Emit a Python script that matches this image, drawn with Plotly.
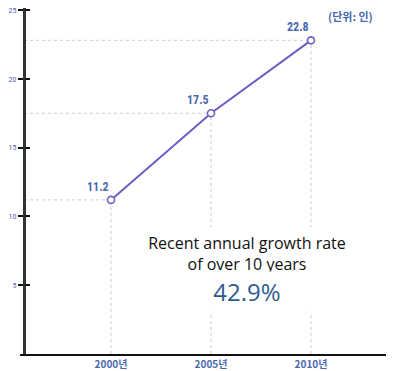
import plotly.graph_objects as go

years = [2000, 2005, 2010]
year_labels = ["2000년", "2005년", "2010년"]
values = [11.2, 17.5, 22.8]
value_labels = ["11.2", "17.5", "22.8"]
y_ticks = [5, 10, 15, 20, 25]
unit_label = "(단위: 인)"
note_lines = ["Recent annual growth rate", "of over 10 years", "42.9%"]

X0, X1 = 1995.45, 2014.15
Y0, Y1 = 0, 25.15
LINE_C = "#6a5fc4"
LABEL_C = "#4a68b0"
GUIDE_C = "#c9c9df"

fig = go.Figure()

# guide lines
for x, v in zip(years, values):
    fig.add_trace(go.Scatter(x=[X0 + 0.2, x], y=[v, v], mode="lines",
                             line=dict(color=GUIDE_C, width=1, dash="dot"),
                             hoverinfo="skip", showlegend=False))
    fig.add_trace(go.Scatter(x=[x, x], y=[Y0, v], mode="lines",
                             line=dict(color=GUIDE_C, width=1, dash="dot"),
                             hoverinfo="skip", showlegend=False))

fig.add_trace(go.Scatter(x=years, y=values, mode="lines+markers",
                         line=dict(color=LINE_C, width=2),
                         marker=dict(symbol="circle", size=7, color="white",
                                     line=dict(color=LINE_C, width=1.6)),
                         showlegend=False))

for x, v, t in zip(years, values, value_labels):
    fig.add_annotation(x=x, y=v, text=t, showarrow=False, xshift=-13, yshift=13,
                       font=dict(family="Roboto Condensed, Roboto, sans-serif", size=12,
                                 color=LABEL_C, weight="bold"))

fig.add_annotation(
    x=2006.8, y=7.30, xref="x", yref="y", showarrow=False,
    text=f"{note_lines[0]}<br>{note_lines[1]}",
    font=dict(family="Open Sans, Noto Sans, sans-serif", size=16, color="#111111"),
    bgcolor="white", borderpad=4, width=232, align="center")
fig.add_annotation(
    x=2006.8, y=4.51, xref="x", yref="y", showarrow=False,
    text=note_lines[2],
    font=dict(family="Open Sans, Noto Sans, sans-serif", size=24, color="#2f5c8f"),
    bgcolor="white", borderpad=3, width=232, align="center")

fig.add_annotation(x=(342 - 12) / 374, y=(346 - 8) / 346, xref="paper", yref="paper",
                   xanchor="center", yanchor="middle",
                   text=unit_label, showarrow=False,
                   font=dict(family="Noto Sans CJK KR", size=11, color=LABEL_C,
                             weight="bold"))

fig.update_layout(
    width=386, height=363,
    margin=dict(l=12, r=0, t=0, b=17),
    paper_bgcolor="white", plot_bgcolor="white",
    xaxis=dict(range=[X0, X1], tickvals=years, ticktext=year_labels, automargin=False,
               showgrid=False, zeroline=False, showline=True, linecolor="#111111",
               linewidth=2, ticks="", ticklabeloverflow="allow",
               tickfont=dict(family="Noto Sans CJK KR", size=10, color=LABEL_C,
                             weight="bold")),
    yaxis=dict(range=[Y0, Y1], tickvals=y_ticks, showgrid=False, zeroline=False,
               automargin=False, ticklabeloverflow="allow",
               anchor="free", position=4 / 374, showline=True, linecolor="#333333",
               linewidth=3, ticks="outside", ticklen=5, tickwidth=2, tickcolor="#111111",
               tickfont=dict(family="Roboto Condensed, Roboto, sans-serif", size=8,
                             color=LABEL_C)),
    yaxis2=dict(range=[Y0, Y1], tickvals=y_ticks, overlaying="y", anchor="free",
                position=4 / 374, side="left", showgrid=False, zeroline=False,
                automargin=False,
                showticklabels=False, ticks="inside", ticklen=5, tickwidth=2,
                tickcolor="#111111"),
)
fig.add_trace(go.Scatter(x=[None], y=[None], yaxis="y2", showlegend=False,
                         hoverinfo="skip"))

fig.write_html("out.html")
